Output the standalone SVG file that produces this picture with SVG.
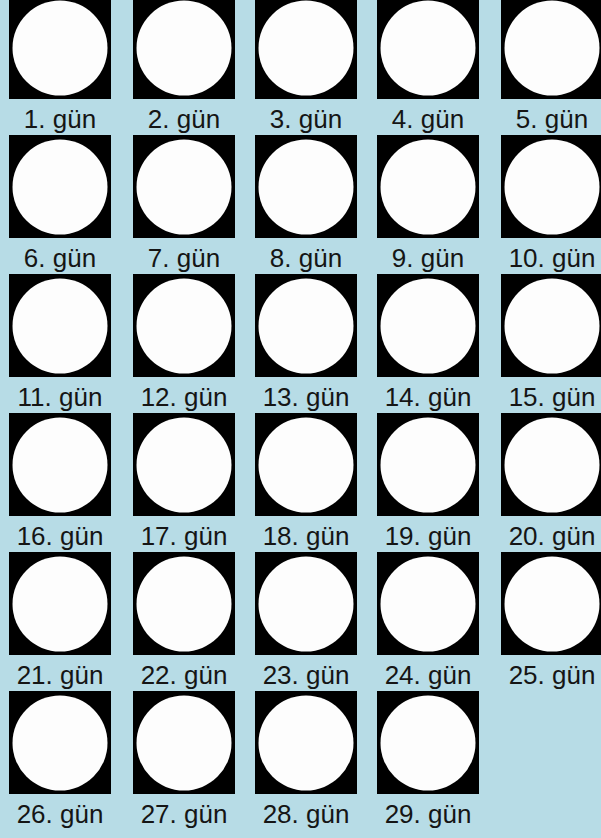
<svg xmlns="http://www.w3.org/2000/svg" width="601" height="838" viewBox="0 0 601 838">
<style>
.bg{fill:#b7dce6}
.sq{fill:#000}
.moon{fill:#fdfdfd}
.lbl{font-family:"Liberation Sans",Arial,sans-serif;font-size:26px;fill:#151515;text-anchor:middle}
</style>
<defs>
<g id="m"><rect class="sq" x="0" y="0" width="102" height="103"/><circle class="moon" cx="51" cy="52" r="47.5"/></g>
</defs>
<rect class="bg" x="0" y="0" width="601" height="838"/>
<g id="day1"><use href="#m" x="9" y="-4"/><text class="lbl" x="60" y="128">1. gün</text></g>
<g id="day2"><use href="#m" x="133" y="-4"/><text class="lbl" x="184" y="128">2. gün</text></g>
<g id="day3"><use href="#m" x="255" y="-4"/><text class="lbl" x="306" y="128">3. gün</text></g>
<g id="day4"><use href="#m" x="377" y="-4"/><text class="lbl" x="428" y="128">4. gün</text></g>
<g id="day5"><use href="#m" x="501" y="-4"/><text class="lbl" x="552" y="128">5. gün</text></g>
<g id="day6"><use href="#m" x="9" y="135"/><text class="lbl" x="60" y="267">6. gün</text></g>
<g id="day7"><use href="#m" x="133" y="135"/><text class="lbl" x="184" y="267">7. gün</text></g>
<g id="day8"><use href="#m" x="255" y="135"/><text class="lbl" x="306" y="267">8. gün</text></g>
<g id="day9"><use href="#m" x="377" y="135"/><text class="lbl" x="428" y="267">9. gün</text></g>
<g id="day10"><use href="#m" x="501" y="135"/><text class="lbl" x="552" y="267">10. gün</text></g>
<g id="day11"><use href="#m" x="9" y="274"/><text class="lbl" x="60" y="406">11. gün</text></g>
<g id="day12"><use href="#m" x="133" y="274"/><text class="lbl" x="184" y="406">12. gün</text></g>
<g id="day13"><use href="#m" x="255" y="274"/><text class="lbl" x="306" y="406">13. gün</text></g>
<g id="day14"><use href="#m" x="377" y="274"/><text class="lbl" x="428" y="406">14. gün</text></g>
<g id="day15"><use href="#m" x="501" y="274"/><text class="lbl" x="552" y="406">15. gün</text></g>
<g id="day16"><use href="#m" x="9" y="413"/><text class="lbl" x="60" y="545">16. gün</text></g>
<g id="day17"><use href="#m" x="133" y="413"/><text class="lbl" x="184" y="545">17. gün</text></g>
<g id="day18"><use href="#m" x="255" y="413"/><text class="lbl" x="306" y="545">18. gün</text></g>
<g id="day19"><use href="#m" x="377" y="413"/><text class="lbl" x="428" y="545">19. gün</text></g>
<g id="day20"><use href="#m" x="501" y="413"/><text class="lbl" x="552" y="545">20. gün</text></g>
<g id="day21"><use href="#m" x="9" y="552"/><text class="lbl" x="60" y="684">21. gün</text></g>
<g id="day22"><use href="#m" x="133" y="552"/><text class="lbl" x="184" y="684">22. gün</text></g>
<g id="day23"><use href="#m" x="255" y="552"/><text class="lbl" x="306" y="684">23. gün</text></g>
<g id="day24"><use href="#m" x="377" y="552"/><text class="lbl" x="428" y="684">24. gün</text></g>
<g id="day25"><use href="#m" x="501" y="552"/><text class="lbl" x="552" y="684">25. gün</text></g>
<g id="day26"><use href="#m" x="9" y="691"/><text class="lbl" x="60" y="823">26. gün</text></g>
<g id="day27"><use href="#m" x="133" y="691"/><text class="lbl" x="184" y="823">27. gün</text></g>
<g id="day28"><use href="#m" x="255" y="691"/><text class="lbl" x="306" y="823">28. gün</text></g>
<g id="day29"><use href="#m" x="377" y="691"/><text class="lbl" x="428" y="823">29. gün</text></g>
<g id="connectors"/>
</svg>
